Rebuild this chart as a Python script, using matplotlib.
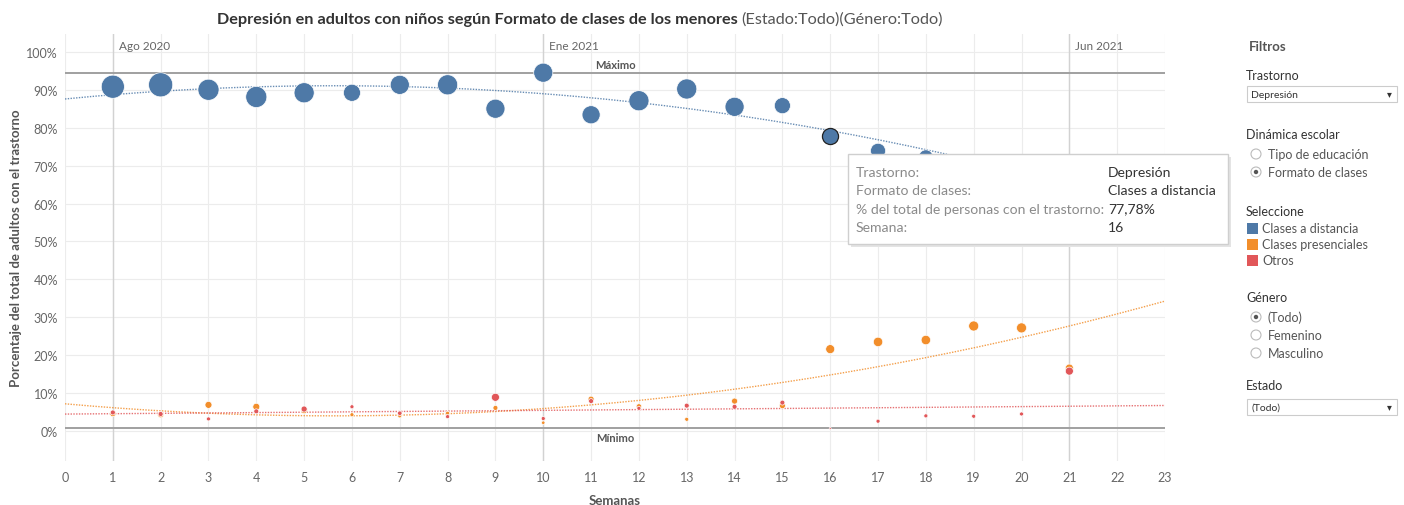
import numpy as np
import matplotlib
matplotlib.use('Agg')
import matplotlib.pyplot as plt
from matplotlib.patches import Rectangle, Circle

plt.rcParams['font.family'] = ['Lato', 'DejaVu Sans']

# data
weeks = np.arange(1, 22)
distancia = [90.8, 91.3, 90.0, 88.1, 89.2, 89.2, 91.3, 91.3, 85.0, 94.5, 83.4,
             87.1, 90.2, 85.5, 85.8, 77.78, 73.9, 72.3, 68.4, 68.3, 67.3]
presenciales = [4.6, 4.3, 6.9, 6.4, 5.4, 4.3, 4.0, 4.7, 6.1, 2.2, 8.4,
                6.5, 3.1, 7.9, 6.7, 21.6, 23.5, 24.0, 27.7, 27.2, 16.6]
otros = [4.9, 4.5, 3.2, 5.2, 5.8, 6.4, 4.7, 3.8, 8.9, 3.3, 7.9,
         6.0, 6.7, 6.4, 7.5, 0.7, 2.6, 4.0, 3.9, 4.5, 15.8]
# respondents behind each mark (drives mark size)
n_distancia = [132, 144, 110, 110, 100, 72, 90, 100, 90, 90, 81,
               100, 100, 90, 64, 64, 56, 49, 45, 42, 40]
n_presenciales = [9, 9, 12, 12, 9, 4, 4, 4, 6, 3, 9,
                  7, 4, 9, 9, 20, 22, 22, 25, 25, 16]
n_otros = [6, 6, 4, 6, 9, 4, 5, 4, 16, 4, 6,
           4, 6, 6, 6, 1, 4, 4, 4, 4, 16]
series = ['Clases a distancia', 'Clases presenciales', 'Otros']
colors = ['#4e79a7', '#f28e2b', '#e15759']
month_weeks = [1, 10, 21]
month_labels = ['Ago 2020', 'Ene 2021', 'Jun 2021']

W, H = 1404, 506
fig = plt.figure(figsize=(W / 100, H / 100), dpi=100)
ax = fig.add_axes([65 / W, 1 - 462 / H, 1100 / W, 427 / H])
ax.set_xlim(0, 23)
ax.set_ylim(-7.9, 104.7)
for s in ax.spines.values():
    s.set_visible(False)
ax.set_xticks(range(0, 24))
ax.set_yticks(range(0, 101, 10))
ax.set_yticklabels([f'{v}%' for v in range(0, 101, 10)])
ax.tick_params(length=0, colors='#666666', labelsize=9)
ax.tick_params(axis='x', pad=7)
ax.tick_params(axis='y', pad=5)
ax.grid(True, color='#ececec', lw=0.8)
ax.set_axisbelow(True)

# month reference lines
for wk, lab in zip(month_weeks, month_labels):
    ax.axvline(wk, color='#d2d2d2', lw=1.0, zorder=1)
    ax.text(wk + 0.12, 101.6, lab, color='#666666', fontsize=8.5, va='center')

# max / min reference lines
vmax = max(distancia)
vmin = min(min(distancia), min(presenciales), min(otros))
ax.axhline(vmax, color='#a0a0a0', lw=1.4, zorder=1)
ax.axhline(vmin, color='#a0a0a0', lw=1.4, zorder=1)
ax.text(11.5, vmax + 2.1, 'Máximo', ha='center', va='center', fontsize=8,
        fontweight='bold', color='#555555')
ax.text(11.5, vmin - 2.4, 'Mínimo', ha='center', va='center', fontsize=8,
        fontweight='bold', color='#555555')

# trend lines
xs = np.linspace(0, 23, 200)
for vals, col, deg in zip([distancia, presenciales, otros], colors, [2, 2, 1]):
    p = np.polyfit(weeks, vals, deg)
    ax.plot(xs, np.polyval(p, xs), color=col, lw=1.0, ls=(0, (1, 1)),
            alpha=0.85, zorder=2)

# marks
for vals, n, col in zip([distancia, presenciales, otros],
                        [n_distancia, n_presenciales, n_otros], colors):
    ax.scatter(weeks, vals, s=np.array(n) * 2.1, color=col,
               edgecolor='white', linewidth=0.5, zorder=3)
# highlighted mark
hi = 15
ax.scatter([weeks[hi]], [distancia[hi]], s=n_distancia[hi] * 2.1,
           color=colors[0], edgecolor='#222222', linewidth=0.9, zorder=4)

ax.set_xlabel('Semanas', fontsize=9.5, fontweight='bold', color='#555555',
              labelpad=8)
ax.set_ylabel('Porcentaje del total de adultos con el trastorno', fontsize=9.5,
              fontweight='bold', color='#555555', labelpad=3)

# title
fig.canvas.draw()
r = fig.canvas.get_renderer()
t1 = fig.text(217 / W, 1 - 20 / H, 'Depresión en adultos con niños según Formato de clases de los menores',
              fontsize=11.7, fontweight='bold', color='#333333', va='center')
bb = t1.get_window_extent(renderer=r)
fig.text((bb.x1 + 4) / W, 1 - 20 / H, '(Estado:Todo)(Género:Todo)', fontsize=11.7,
         color='#555555', va='center')

# overlay in pixel coordinates
ov = fig.add_axes([0, 0, 1, 1], zorder=10)
ov.set_xlim(0, W)
ov.set_ylim(H, 0)
ov.axis('off')

# tooltip
ov.add_patch(Rectangle((851, 158), 380, 90, facecolor='#e4e4e4', edgecolor='none'))
ov.add_patch(Rectangle((848, 155), 380, 90, facecolor='white', edgecolor='#cfcfcf', lw=1))
tip_keys = ['Trastorno:', 'Formato de clases:', '% del total de personas con el trastorno:', 'Semana:']
tip_vals = ['Depresión', series[0], f'{distancia[hi]:.2f}%'.replace('.', ','), str(weeks[hi])]
for i, (k, v) in enumerate(zip(tip_keys, tip_vals)):
    y = 173 + i * 18.3
    ov.text(856, y, k, fontsize=10.1, color='#8a8a8a', va='center')
    ov.text(1108, y, v, fontsize=10.1, color='#333333', va='center')

# filter panel
head = dict(fontsize=9, color='#333333', va='center')
item = dict(fontsize=9, color='#555555', va='center')
ov.text(1249, 47, 'Filtros', fontsize=9.5, fontweight='bold', color='#555555', va='center')


def dropdown(y, label):
    ov.add_patch(Rectangle((1247, y - 8), 150, 16, facecolor='white', edgecolor='#cccccc', lw=0.8))
    ov.text(1251, y, label, fontsize=7.5, color='#333333', va='center')
    ov.text(1389, y, '▾', fontsize=7, color='#333333', va='center', ha='center')


def radio(y, label, on):
    ov.add_patch(Circle((1256, y), 5, facecolor='white', edgecolor='#bbbbbb', lw=0.8))
    if on:
        ov.add_patch(Circle((1256, y), 2.2, facecolor='#555555', edgecolor='none'))
    ov.text(1268, y, label, **item)


ov.text(1246, 76, 'Trastorno', **head)
dropdown(95, 'Depresión')
ov.text(1246, 135, 'Dinámica escolar', **head)
radio(155, 'Tipo de educación', False)
radio(173, 'Formato de clases', True)
ov.text(1246, 212, 'Seleccione', **head)
for i, (lab, col) in enumerate(zip(series, colors)):
    y = 229 + i * 16
    ov.add_patch(Rectangle((1247, y - 5.5), 11, 11, facecolor=col, edgecolor='none'))
    ov.text(1262, y, lab, **item)
ov.text(1246, 298, 'Género', **head)
radio(318, '(Todo)', True)
radio(336, 'Femenino', False)
radio(354, 'Masculino', False)
ov.text(1246, 386, 'Estado', **head)
dropdown(408, '(Todo)')

fig.savefig('out.png', dpi=100)
